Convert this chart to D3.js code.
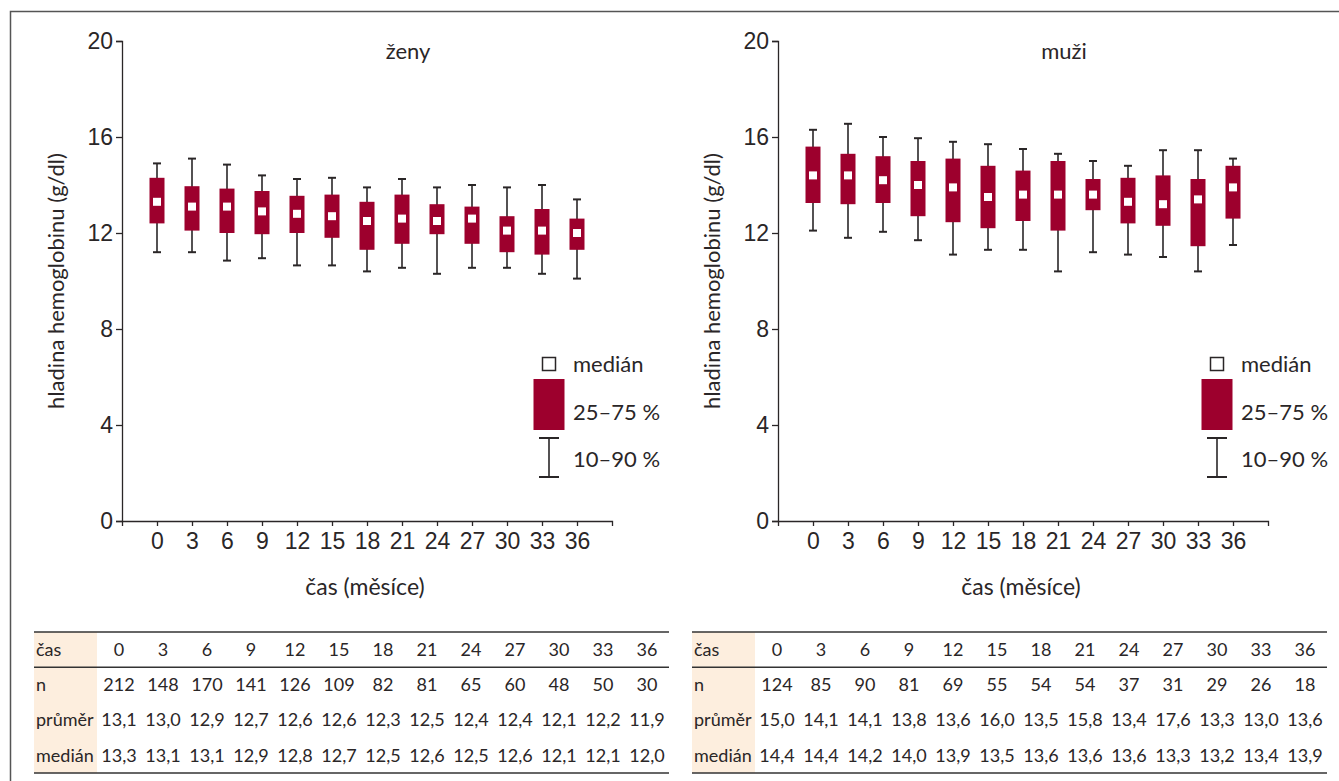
<!DOCTYPE html>
<html>
<head>
<meta charset="utf-8">
<script src="https://cdn.jsdelivr.net/npm/d3@7"></script>
<style>
  body { margin: 0; background: #fff; }
  svg { display: block; font-family: Lato, "Open Sans", sans-serif; }
</style>
</head>
<body>
<div id="chart"></div>
<script>
// časové body (měsíce) a popisky osy Y
const months = [0, 3, 6, 9, 12, 15, 18, 21, 24, 27, 30, 33, 36];
const yTicks = [0, 4, 8, 12, 16, 20];

// ženy - percentily hladiny hemoglobinu
const zenyP90 = [14.9, 15.1, 14.85, 14.4, 14.25, 14.3, 13.9, 14.25, 13.9, 14.0, 13.9, 14.0, 13.4];
const zenyP75 = [14.3, 13.95, 13.85, 13.75, 13.55, 13.6, 13.3, 13.6, 13.2, 13.1, 12.7, 13.0, 12.6];
const zenyMed = [13.3, 13.1, 13.1, 12.9, 12.8, 12.7, 12.5, 12.6, 12.5, 12.6, 12.1, 12.1, 12.0];
const zenyP25 = [12.4, 12.1, 12.0, 11.95, 12.0, 11.8, 11.3, 11.55, 11.95, 11.55, 11.2, 11.1, 11.3];
const zenyP10 = [11.2, 11.2, 10.85, 10.95, 10.65, 10.65, 10.4, 10.55, 10.3, 10.55, 10.55, 10.3, 10.1];

// muži - percentily hladiny hemoglobinu
const muziP90 = [16.3, 16.55, 16.0, 15.95, 15.8, 15.7, 15.5, 15.3, 15.0, 14.8, 15.45, 15.45, 15.1];
const muziP75 = [15.6, 15.3, 15.2, 15.0, 15.1, 14.8, 14.6, 15.0, 14.25, 14.3, 14.4, 14.25, 14.8];
const muziMed = [14.4, 14.4, 14.2, 14.0, 13.9, 13.5, 13.6, 13.6, 13.6, 13.3, 13.2, 13.4, 13.9];
const muziP25 = [13.25, 13.2, 13.25, 12.7, 12.45, 12.2, 12.5, 12.1, 12.95, 12.4, 12.3, 11.45, 12.6];
const muziP10 = [12.1, 11.8, 12.05, 11.7, 11.1, 11.3, 11.3, 10.4, 11.2, 11.1, 11.0, 10.4, 11.5];

// tabulky pod grafy
const rowLabels = ["čas", "n", "průměr", "medián"];
const zenyN = ["212", "148", "170", "141", "126", "109", "82", "81", "65", "60", "48", "50", "30"];
const zenyMean = ["13,1", "13,0", "12,9", "12,7", "12,6", "12,6", "12,3", "12,5", "12,4", "12,4", "12,1", "12,2", "11,9"];
const zenyMedian = ["13,3", "13,1", "13,1", "12,9", "12,8", "12,7", "12,5", "12,6", "12,5", "12,6", "12,1", "12,1", "12,0"];
const muziN = ["124", "85", "90", "81", "69", "55", "54", "54", "37", "31", "29", "26", "18"];
const muziMean = ["15,0", "14,1", "14,1", "13,8", "13,6", "16,0", "13,5", "15,8", "13,4", "17,6", "13,3", "13,0", "13,6"];
const muziMedian = ["14,4", "14,4", "14,2", "14,0", "13,9", "13,5", "13,6", "13,6", "13,6", "13,3", "13,2", "13,4", "13,9"];

const W = 1339, H = 781;
const boxColor = "#9d002d";
const inkColor = "#2a2627";

const svg = d3.select("#chart").append("svg")
    .attr("width", W)
    .attr("height", H);

svg.append("rect").attr("width", W).attr("height", H).attr("fill", "#fff");

// rámeček obrázku
svg.append("path")
    .attr("d", `M10.5,${H} L10.5,11.5 L${W},11.5`)
    .attr("fill", "none")
    .attr("stroke", "#555")
    .attr("stroke-width", 1.5);

function drawPanel(cfg) {
    const x = d3.scaleLinear().domain([-3, 39]).range([cfg.x0, cfg.x0 + 490]);
    const y = d3.scaleLinear().domain([0, 20]).range([521, 41]);
    const g = svg.append("g");

    // osa Y
    const yAxis = g.append("g")
        .attr("transform", `translate(${cfg.x0},0)`)
        .call(d3.axisLeft(y).tickValues(yTicks).tickSize(6).tickPadding(3));
    yAxis.selectAll("text").style("font-size", "23px").attr("fill", inkColor);

    // osa X
    const xAxis = g.append("g")
        .attr("transform", `translate(0,521)`)
        .call(d3.axisBottom(x).tickValues(months).tickSize(5).tickSizeOuter(5).tickPadding(7));
    xAxis.selectAll("text").style("font-size", "23px").attr("fill", inkColor);

    g.selectAll(".domain, .tick line").attr("stroke", inkColor).attr("stroke-width", 1.3);

    // popisky os
    g.append("text")
        .attr("transform", `translate(${cfg.x0 - 66},281) rotate(-90)`)
        .attr("text-anchor", "middle")
        .attr("dy", "0.35em")
        .style("font-size", "22px")
        .attr("fill", inkColor)
        .text("hladina hemoglobinu (g/dl)");

    g.append("text")
        .attr("x", cfg.x0 + 243)
        .attr("y", 595)
        .attr("text-anchor", "middle")
        .style("font-size", "23px")
        .attr("fill", inkColor)
        .text("čas (měsíce)");

    g.append("text")
        .attr("x", cfg.x0 + 286)
        .attr("y", 59)
        .attr("text-anchor", "middle")
        .style("font-size", "22px")
        .attr("fill", inkColor)
        .text(cfg.title);

    const data = months.map((m, i) => ({
        m: m, p10: cfg.p10[i], p25: cfg.p25[i], med: cfg.med[i], p75: cfg.p75[i], p90: cfg.p90[i]
    }));

    const bw = 15, cw = 8, mw = 8;

    // vousy 10-90 %
    const wh = g.selectAll(".whisker").data(data).enter().append("g").attr("class", "whisker");
    wh.append("line")
        .attr("x1", d => x(d.m)).attr("x2", d => x(d.m))
        .attr("y1", d => y(d.p90)).attr("y2", d => y(d.p10))
        .attr("stroke", inkColor).attr("stroke-width", 1.6);
    wh.append("line")
        .attr("x1", d => x(d.m) - cw / 2).attr("x2", d => x(d.m) + cw / 2)
        .attr("y1", d => y(d.p90)).attr("y2", d => y(d.p90))
        .attr("stroke", inkColor).attr("stroke-width", 2);
    wh.append("line")
        .attr("x1", d => x(d.m) - cw / 2).attr("x2", d => x(d.m) + cw / 2)
        .attr("y1", d => y(d.p10)).attr("y2", d => y(d.p10))
        .attr("stroke", inkColor).attr("stroke-width", 2);

    // krabice 25-75 %
    g.selectAll(".box").data(data).enter().append("rect")
        .attr("class", "box")
        .attr("x", d => x(d.m) - bw / 2)
        .attr("y", d => y(d.p75))
        .attr("width", bw)
        .attr("height", d => y(d.p25) - y(d.p75))
        .attr("fill", boxColor);

    // medián
    g.selectAll(".med").data(data).enter().append("rect")
        .attr("class", "med")
        .attr("x", d => x(d.m) - mw / 2)
        .attr("y", d => y(d.med) - mw / 2)
        .attr("width", mw)
        .attr("height", mw)
        .attr("fill", "#fff");

    // legenda
    const lx = cfg.legendX;
    const lg = g.append("g");
    lg.append("rect")
        .attr("x", lx - 6.5).attr("y", 357.5).attr("width", 13).attr("height", 13)
        .attr("fill", "#fff").attr("stroke", inkColor).attr("stroke-width", 1.5);
    lg.append("rect")
        .attr("x", lx - 15.5).attr("y", 379).attr("width", 31).attr("height", 51)
        .attr("fill", boxColor);
    lg.append("line").attr("x1", lx).attr("x2", lx).attr("y1", 438).attr("y2", 477)
        .attr("stroke", inkColor).attr("stroke-width", 1.6);
    lg.append("line").attr("x1", lx - 10).attr("x2", lx + 10).attr("y1", 438).attr("y2", 438)
        .attr("stroke", inkColor).attr("stroke-width", 2);
    lg.append("line").attr("x1", lx - 10).attr("x2", lx + 10).attr("y1", 477).attr("y2", 477)
        .attr("stroke", inkColor).attr("stroke-width", 2);
    [["medián", 364], ["25–75 %", 412], ["10–90 %", 459]].forEach(([t, ty]) => {
        lg.append("text")
            .attr("x", lx + 24).attr("y", ty).attr("dy", "0.35em")
            .style("font-size", "22px").attr("fill", inkColor)
            .text(t);
    });
}

function drawTable(cfg) {
    const g = svg.append("g");
    const rows = d3.scaleBand().domain(rowLabels).range([632, 773]);
    const cols = d3.scaleBand().domain(months).range([cfg.x0 + 63, cfg.x1]);

    g.append("rect")
        .attr("x", cfg.x0).attr("y", 632)
        .attr("width", 63).attr("height", 141)
        .attr("fill", "#fdeede");

    const lines = [632, rows("n"), 773];
    g.selectAll(".hline").data(lines).enter().append("line")
        .attr("x1", cfg.x0).attr("x2", cfg.x1)
        .attr("y1", d => d).attr("y2", d => d)
        .attr("stroke", "#333").attr("stroke-width", 1.6);

    g.selectAll(".rlabel").data(rowLabels).enter().append("text")
        .attr("x", cfg.x0 + 2)
        .attr("y", d => rows(d) + rows.bandwidth() / 2)
        .attr("dy", "0.35em")
        .style("font-size", "18px")
        .attr("fill", inkColor)
        .text(d => d);

    const rowVals = [months.map(String), cfg.n, cfg.mean, cfg.median];
    rowVals.forEach((vals, r) => {
        g.selectAll(".c" + r).data(vals).enter().append("text")
            .attr("x", (d, i) => cols(months[i]) + cols.bandwidth() / 2)
            .attr("y", rows(rowLabels[r]) + rows.bandwidth() / 2)
            .attr("dy", "0.35em")
            .attr("text-anchor", "middle")
            .style("font-size", "18px")
            .attr("fill", inkColor)
            .text(d => d);
    });
}

drawPanel({ x0: 122, title: "ženy", legendX: 549,
    p10: zenyP10, p25: zenyP25, med: zenyMed, p75: zenyP75, p90: zenyP90 });
drawPanel({ x0: 778, title: "muži", legendX: 1217,
    p10: muziP10, p25: muziP25, med: muziMed, p75: muziP75, p90: muziP90 });

drawTable({ x0: 34, x1: 669, n: zenyN, mean: zenyMean, median: zenyMedian });
drawTable({ x0: 692, x1: 1327, n: muziN, mean: muziMean, median: muziMedian });
</script>
</body>
</html>
